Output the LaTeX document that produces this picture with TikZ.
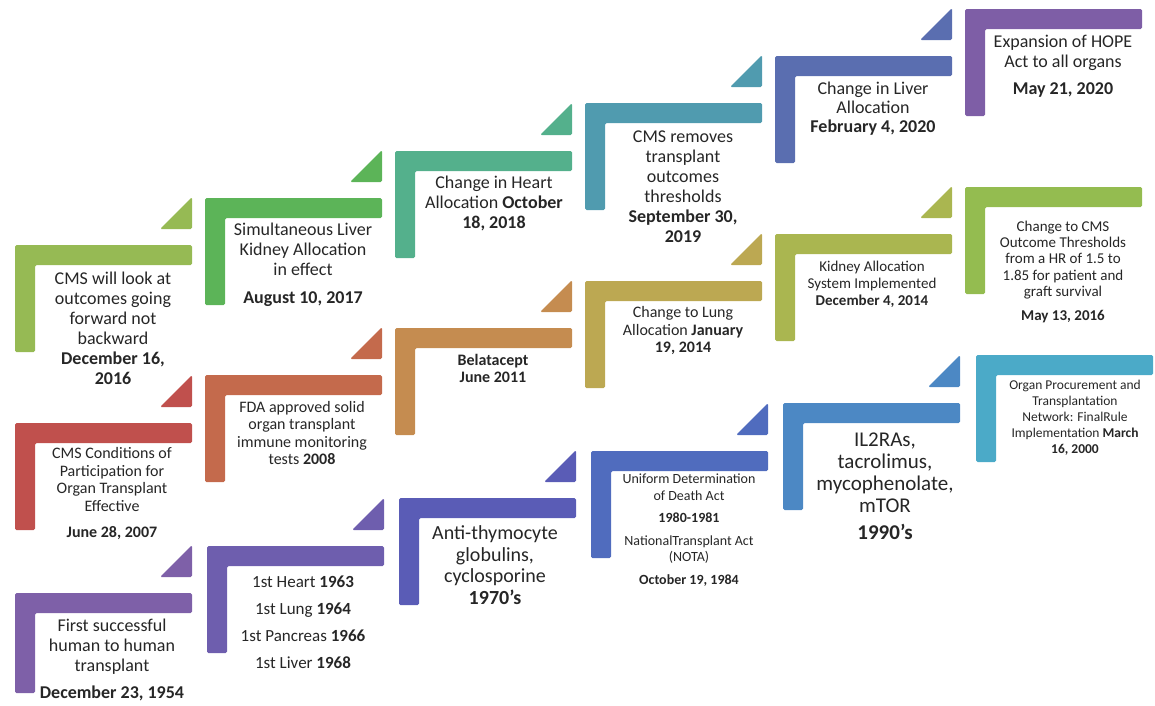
\documentclass[tikz,border=0pt]{standalone}
\usepackage{fontspec}
\setmainfont{Carlito}
\usepackage{tikz}
\usepackage{xcolor}

\definecolor{topA}{RGB}{150,186,84}
\definecolor{topB}{RGB}{92,180,88}
\definecolor{topC}{RGB}{84,176,140}
\definecolor{topD}{RGB}{80,155,175}
\definecolor{topE}{RGB}{90,110,176}
\definecolor{topF}{RGB}{126,94,166}
\definecolor{midA}{RGB}{192,80,77}
\definecolor{midB}{RGB}{196,106,76}
\definecolor{midC}{RGB}{197,140,80}
\definecolor{midD}{RGB}{188,168,82}
\definecolor{midE}{RGB}{170,182,80}
\definecolor{midF}{RGB}{148,188,80}
\definecolor{botA}{RGB}{126,96,168}
\definecolor{botB}{RGB}{110,94,174}
\definecolor{botC}{RGB}{90,92,182}
\definecolor{botD}{RGB}{80,108,190}
\definecolor{botE}{RGB}{76,136,196}
\definecolor{botF}{RGB}{75,170,200}

\newcommand{\txtsize}[2]{\fontsize{#1}{#2}\selectfont}

\tikzset{
  bar/.style={rounded corners=1.5pt},
  lbl/.style={align=center, inner sep=0pt, text=black!85},
}

\begin{document}
\begin{tikzpicture}[x=1pt,y=-1pt]
\useasboundingbox (0,0) rectangle (1155,705);
% top row
\fill[topA,bar] (15,245) -- (192,245) -- (192,265) -- (35,265) -- (35,352) -- (15,352) -- cycle;
\fill[topA,bar] (160,229) -- (192,229) -- (192,197) -- cycle;
\node[lbl,font=\txtsize{18}{20}] (t1) at (113,328) {CMS will look at\\outcomes going\\forward not\\backward\\\textbf{December 16,}\\\textbf{2016}};
\fill[topB,bar] (205,198) -- (382,198) -- (382,218) -- (225,218) -- (225,305) -- (205,305) -- cycle;
\fill[topB,bar] (350,182) -- (382,182) -- (382,150) -- cycle;
\node[lbl,font=\txtsize{18}{20}] (t2) at (303,265) {Simultaneous Liver\\Kidney Allocation\\in effect\\[8pt]\textbf{August 10, 2017}};
\fill[topC,bar] (395,151) -- (572,151) -- (572,171) -- (415,171) -- (415,258) -- (395,258) -- cycle;
\fill[topC,bar] (540,135) -- (572,135) -- (572,103) -- cycle;
\node[lbl,font=\txtsize{18}{20}] (t3) at (494,203) {Change in Heart\\Allocation \textbf{October}\\\textbf{18, 2018}};
\fill[topD,bar] (585,103) -- (762,103) -- (762,123) -- (605,123) -- (605,210) -- (585,210) -- cycle;
\fill[topD,bar] (730,87) -- (762,87) -- (762,55) -- cycle;
\node[lbl,font=\txtsize{18}{20}] (t4) at (683,187) {CMS removes\\transplant\\outcomes\\thresholds\\\textbf{September 30,}\\\textbf{2019}};
\fill[topE,bar] (775,56) -- (952,56) -- (952,76) -- (795,76) -- (795,163) -- (775,163) -- cycle;
\fill[topE,bar] (920,40) -- (952,40) -- (952,8) -- cycle;
\node[lbl,font=\txtsize{18}{19}] (t5) at (873,109) {Change in Liver\\Allocation\\\textbf{February 4, 2020}};
\fill[topF,bar] (965,9) -- (1142,9) -- (1142,29) -- (985,29) -- (985,116) -- (965,116) -- cycle;
\node[lbl,font=\txtsize{18}{20}] (t6) at (1063,66) {Expansion of HOPE\\Act to all organs\\[7pt]\textbf{May 21, 2020}};
% middle row
\fill[midA,bar] (15,423) -- (192,423) -- (192,443) -- (35,443) -- (35,530) -- (15,530) -- cycle;
\fill[midA,bar] (160,407) -- (192,407) -- (192,375) -- cycle;
\node[lbl,font=\txtsize{16}{17.5}] (m1) at (112,494) {CMS Conditions of\\Participation for\\Organ Transplant\\Effective\\[9pt]\textbf{June 28, 2007}};
\fill[midB,bar] (205,375) -- (382,375) -- (382,395) -- (225,395) -- (225,482) -- (205,482) -- cycle;
\fill[midB,bar] (350,359) -- (382,359) -- (382,327) -- cycle;
\node[lbl,font=\txtsize{16}{17.5}] (m2) at (302,433) {FDA approved solid\\organ transplant\\immune monitoring\\tests \textbf{2008}};
\fill[midC,bar] (395,328) -- (572,328) -- (572,348) -- (415,348) -- (415,435) -- (395,435) -- cycle;
\fill[midC,bar] (540,312) -- (572,312) -- (572,280) -- cycle;
\node[lbl,font=\bfseries\txtsize{16}{17}] (m3) at (493,368) {Belatacept\\June 2011};
\fill[midD,bar] (585,281) -- (762,281) -- (762,301) -- (605,301) -- (605,388) -- (585,388) -- cycle;
\fill[midD,bar] (730,265) -- (762,265) -- (762,233) -- cycle;
\node[lbl,font=\txtsize{16}{17.5}] (m4) at (683,331) {Change to Lung\\Allocation \textbf{January}\\\textbf{19, 2014}};
\fill[midE,bar] (775,234) -- (952,234) -- (952,254) -- (795,254) -- (795,341) -- (775,341) -- cycle;
\fill[midE,bar] (920,218) -- (952,218) -- (952,186) -- cycle;
\node[lbl,font=\txtsize{15}{17}] (m5) at (872,284) {Kidney Allocation\\System Implemented\\\textbf{December 4, 2014}};
\fill[midF,bar] (965,187) -- (1142,187) -- (1142,207) -- (985,207) -- (985,294) -- (965,294) -- cycle;
\node[lbl,font=\txtsize{15}{16.3}] (m6) at (1063,272) {Change to CMS\\Outcome Thresholds\\from a HR of 1.5 to\\1.85 for patient and\\graft survival\\[8pt]\textbf{May 13, 2016}};
% bottom row
\fill[botA,bar] (15,593) -- (192,593) -- (192,613) -- (35,613) -- (35,693) -- (15,693) -- cycle;
\fill[botA,bar] (160,577) -- (192,577) -- (192,545) -- cycle;
\node[lbl,font=\txtsize{18}{20}] (b1) at (112,660) {First successful\\human to human\\transplant\\[7pt]\textbf{December 23, 1954}};
\fill[botB,bar] (207,546) -- (384,546) -- (384,566) -- (227,566) -- (227,653) -- (207,653) -- cycle;
\fill[botB,bar] (352,530) -- (384,530) -- (384,498) -- cycle;
\node[lbl,font=\txtsize{17}{20}] (b2) at (303,622) {1st Heart \textbf{1963}\\[7pt]1st Lung \textbf{1964}\\[7pt]1st Pancreas \textbf{1966}\\[7pt]1st Liver \textbf{1968}};
\fill[botC,bar] (399,498) -- (576,498) -- (576,518) -- (419,518) -- (419,605) -- (399,605) -- cycle;
\fill[botC,bar] (544,482) -- (576,482) -- (576,450) -- cycle;
\node[lbl,font=\txtsize{20}{21.5}] (b3) at (495,565) {Anti-thymocyte\\globulins,\\cyclosporine\\\textbf{1970’s}};
\fill[botD,bar] (591,451) -- (768,451) -- (768,471) -- (611,471) -- (611,558) -- (591,558) -- cycle;
\fill[botD,bar] (736,435) -- (768,435) -- (768,403) -- cycle;
\node[lbl,font=\txtsize{14}{16.5}] (b4) at (689,530) {Uniform Determination\\of Death Act\\[6pt]\textbf{1980-1981}\\[6pt]NationalTransplant Act\\(NOTA)\\[6pt]\textbf{October 19, 1984}};
\fill[botE,bar] (783,403) -- (960,403) -- (960,423) -- (803,423) -- (803,510) -- (783,510) -- cycle;
\fill[botE,bar] (928,387) -- (960,387) -- (960,355) -- cycle;
\node[lbl,font=\txtsize{21}{22}] (b5) at (885,486) {IL2RAs,\\tacrolimus,\\mycophenolate,\\mTOR\\[5pt]\textbf{1990’s}};
\fill[botF,bar] (976,355) -- (1153,355) -- (1153,375) -- (996,375) -- (996,462) -- (976,462) -- cycle;
\node[lbl,font=\txtsize{13.5}{16}] (b6) at (1075,418) {Organ Procurement and\\Transplantation\\Network: FinalRule\\Implementation \textbf{March}\\\textbf{16, 2000}};
\end{tikzpicture}
\end{document}
